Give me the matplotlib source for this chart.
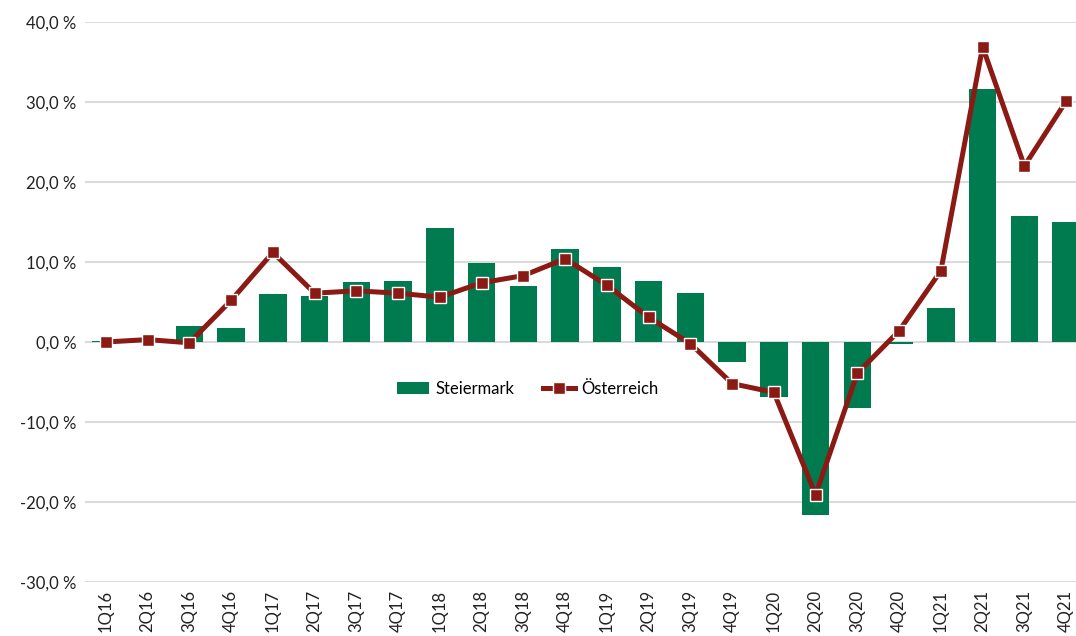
import matplotlib
matplotlib.use("Agg")
from matplotlib import pyplot as plt
import numpy as np

quarters = ["1Q16", "2Q16", "3Q16", "4Q16", "1Q17", "2Q17", "3Q17", "4Q17",
            "1Q18", "2Q18", "3Q18", "4Q18", "1Q19", "2Q19", "3Q19", "4Q19",
            "1Q20", "2Q20", "3Q20", "4Q20", "1Q21", "2Q21", "3Q21", "4Q21"]
steiermark = [0.1, 0.4, 2.0, 1.7, 6.0, 5.7, 7.5, 7.6,
              14.3, 9.9, 7.0, 11.6, 9.4, 7.6, 6.1, -2.5,
              -6.9, -21.6, -8.3, -0.2, 4.3, 31.6, 15.8, 15.0]
oesterreich = [0.0, 0.3, -0.1, 5.2, 11.2, 6.1, 6.4, 6.1,
               5.6, 7.4, 8.3, 10.4, 7.1, 3.1, -0.2, -5.2,
               -6.3, -19.1, -3.9, 1.4, 8.9, 36.9, 22.0, 30.1]
yticks = [-30, -20, -10, 0, 10, 20, 30, 40]

plt.rcParams["font.family"] = ["Lato", "DejaVu Sans"]

fig = plt.figure(figsize=(10.76, 6.36), dpi=100)
ax = fig.add_axes([85 / 1076, 54 / 636, 1002 / 1076, 560 / 636])

x = np.arange(len(quarters))
bars = ax.bar(x, steiermark, width=0.66, color="#007A4F", label="Steiermark", zorder=2)
line, = ax.plot(x, oesterreich, color="#8B1A14", lw=3.6, marker="s", markersize=8,
                markerfacecolor="#8B1A14", markeredgecolor="white", markeredgewidth=1,
                label="Österreich", zorder=3)

ax.set_xlim(-0.5, len(quarters) - 0.5)
ax.set_ylim(-30, 40)
ax.set_yticks(yticks)
ax.set_yticklabels([f"{v:.1f} %".replace(".", ",") for v in yticks], fontsize=12)
ax.set_xticks(x)
ax.set_xticklabels(quarters, rotation=90, fontsize=12)
ax.tick_params(length=0, pad=6, colors="#222222")
ax.grid(axis="y", color="#D9D9D9", lw=1.4, zorder=0)
for s in ax.spines.values():
    s.set_visible(False)

ax.legend(handles=[bars, line], loc="center", bbox_to_anchor=(0.442, 0.345), ncol=2,
          frameon=False, fontsize=12, handlelength=1.9, columnspacing=1.7,
          handletextpad=0.4)

fig.savefig("out.png", dpi=100)
